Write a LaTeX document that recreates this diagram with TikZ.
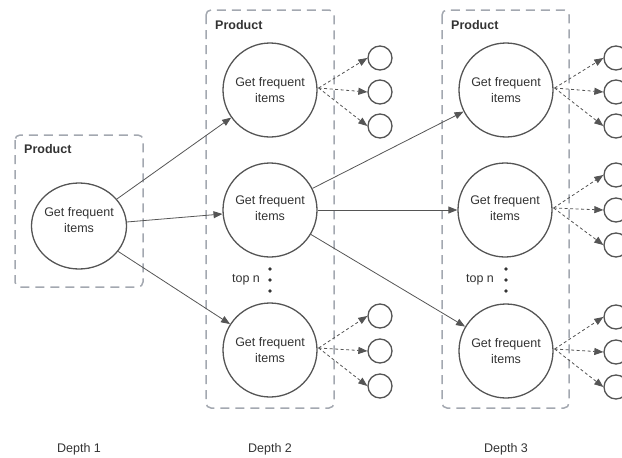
\documentclass[tikz,border=0pt]{standalone}
\usepackage{fontspec}
\setmainfont{Liberation Sans}
\usetikzlibrary{arrows.meta,shapes.geometric}
\definecolor{boxgray}{HTML}{A3A8B0}
\definecolor{linegray}{HTML}{555555}
\definecolor{txt}{HTML}{333333}

\begin{document}
\begin{tikzpicture}[x=1pt,y=-1pt,
  group/.style={draw=boxgray, line width=1.5pt, dash pattern=on 9pt off 6pt, rounded corners=5pt},
  grouplabel/.style={anchor=base west, font=\bfseries\fontsize{12.5}{15}\selectfont, text=txt, inner sep=0pt},
  tasktext/.style={align=center, font=\fontsize{12.5}{16.5}\selectfont, text=txt},
  task/.style={circle, draw=linegray, line width=1.3pt, minimum size=94pt, inner sep=0pt, tasktext},
  roottask/.style={task, ellipse, minimum width=95pt, minimum height=86pt},
  leaf/.style={circle, draw=linegray, line width=1.3pt, minimum size=24pt, inner sep=0pt},
  link/.style={draw=linegray, line width=0.8pt, -{Triangle[length=9pt,width=7pt]}},
  fan/.style={link, dash pattern=on 3pt off 2.5pt},
  caption/.style={font=\fontsize{12.5}{15}\selectfont, text=txt, inner sep=0pt},
  dot/.style={circle, fill=txt, inner sep=0pt, minimum size=3.6pt}
]
\useasboundingbox (0,0) rectangle (622,458);
\clip (0,0) rectangle (622,458);

% group frames
\draw[group] (15,135) rectangle (143,287);
\draw[group] (206,10) rectangle (334,408);
\draw[group] (442,10) rectangle (569,408);
\node[grouplabel] (p1) at (24,153) {Product};
\node[grouplabel] (p2) at (215,29) {Product};
\node[grouplabel] (p3) at (451,29) {Product};

% tasks
\node[roottask, label={[tasktext, yshift=6pt]center:Get frequent\\items}] (d1) at (79,226) {};
\node[task] (d2a) at (270,90) {Get frequent\\items};
\node[task, label={[tasktext, yshift=2pt]center:Get frequent\\items}] (d2b) at (270,210) {};
\node[task] (d2c) at (270,350) {Get frequent\\items};
\node[task] (d3a) at (506,90) {Get frequent\\items};
\node[task, label={[tasktext, yshift=2pt]center:Get frequent\\items}] (d3b) at (505,210) {};
\node[task] (d3c) at (506,351) {Get frequent\\items};

% "top n" ellipses
\node[caption] (tn2) at (246,280) {top n};
\node[dot] (e2a) at (270,269) {};
\node[dot] (e2b) at (270,280) {};
\node[dot] (e2c) at (270,291) {};
\node[caption] (tn3) at (480,280) {top n};
\node[dot] (e3a) at (506,269) {};
\node[dot] (e3b) at (506,280) {};
\node[dot] (e3c) at (506,291) {};

% leaves
\foreach \n/\x/\y in {l2a1/380/58, l2a2/380/92, l2a3/380/126,
                      l2c1/380/316, l2c2/380/351, l2c3/380/386,
                      l3a1/616/58, l3a2/616/92, l3a3/616/126,
                      l3b1/616/175, l3b2/616/210, l3b3/616/245,
                      l3c1/616/317, l3c2/616/352, l3c3/616/387}
  \node[leaf] (\n) at (\x,\y) {};

% expansion links
\draw[link] (d1) -- (d2a);
\draw[link] (d1) -- (d2b);
\draw[link] (d1) -- (d2c);
\draw[link] (d2b) -- (d3a);
\draw[link] (d2b) -- (d3b);
\draw[link] (d2b) -- (d3c);

% fan-out to further candidates
\foreach \p/\l in {d2a/l2a, d2c/l2c, d3a/l3a, d3b/l3b, d3c/l3c} {
  \coordinate (\p s) at ([xshift=1pt,yshift=2pt]\p.east);
  \foreach \i in {1,2,3}
    \draw[fan] (\p s) -- (\l\i.west);
}

% depth captions
\node[caption] (c1) at (79,449) {Depth 1};
\node[caption] (c2) at (270,449) {Depth 2};
\node[caption] (c3) at (506,449) {Depth 3};
\end{tikzpicture}
\end{document}
